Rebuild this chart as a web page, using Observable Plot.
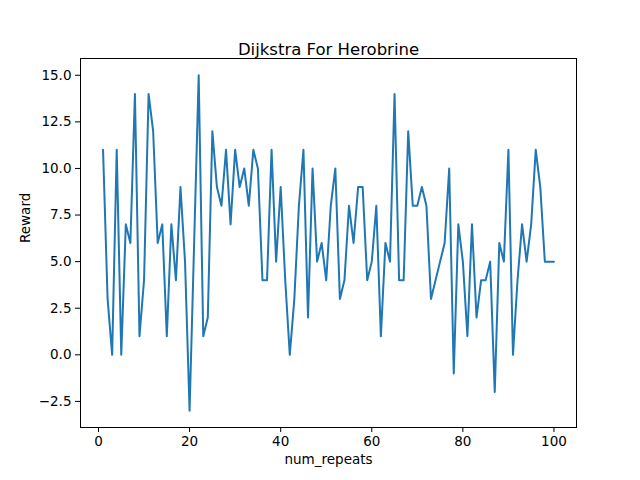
<!DOCTYPE html>
<html>
<head>
<meta charset="utf-8">
<script src="https://cdn.jsdelivr.net/npm/d3@7"></script>
<script src="https://cdn.jsdelivr.net/npm/@observablehq/plot@0.6"></script>
<style>
  body { margin: 0; background: #fff; }
</style>
</head>
<body>
<div id="chart"></div>
<script>
const title = "Dijkstra For Herobrine";
const rewards = [
  11, 3, 0, 11, 0, 7, 6, 14, 1, 4,
  14, 12, 6, 7, 1, 7, 4, 9, 5, -3,
  6, 15, 1, 2, 12, 9, 8, 11, 7, 11,
  9, 10, 8, 11, 10, 4, 4, 11, 5, 9,
  4, 0, 3, 8, 11, 2, 10, 5, 6, 4,
  8, 10, 3, 4, 8, 6, 9, 9, 4, 5,
  8, 1, 6, 5, 14, 4, 4, 12, 8, 8,
  9, 8, 3, 4, 5, 6, 10, -1, 7, 5,
  1, 7, 2, 4, 4, 5, -2, 6, 5, 11,
  0, 4, 7, 5, 7, 11, 9, 5, 5, 5
];
const xTicks = [0, 20, 40, 60, 80, 100];
const yTicks = [-2.5, 0, 2.5, 5, 7.5, 10, 12.5, 15];

const rows = rewards.map((r, i) => ({repeat: i + 1, reward: r}));
const font = "DejaVu Sans, sans-serif";

const plot = Plot.plot({
  width: 640,
  height: 480,
  marginLeft: 80,
  marginRight: 64,
  marginTop: 58,
  marginBottom: 53,
  style: {fontFamily: font, fontSize: "13.5px", color: "#000", background: "#fff"},
  x: {domain: [-3.95, 104.95]},
  y: {domain: [-3.9, 15.9]},
  marks: [
    Plot.frame({stroke: "#000", strokeWidth: 1}),
    Plot.axisX({ticks: xTicks, tickSize: 5, tickPadding: 4, label: null}),
    Plot.axisY({ticks: yTicks, tickSize: 5, tickPadding: 4, tickFormat: d3.format(".1f"), label: null}),
    Plot.text(["num_repeats"], {frameAnchor: "bottom", dy: 36, fontSize: 13.5}),
    Plot.text(["Reward"], {frameAnchor: "left", dx: -55, rotate: -90, fontSize: 13.5}),
    Plot.text([title], {frameAnchor: "top", dy: -15, fontSize: 16.5}),
    Plot.line(rows, {x: "repeat", y: "reward", stroke: "#1f77b4", strokeWidth: 2})
  ]
});
document.getElementById("chart").append(plot);
</script>
</body>
</html>
